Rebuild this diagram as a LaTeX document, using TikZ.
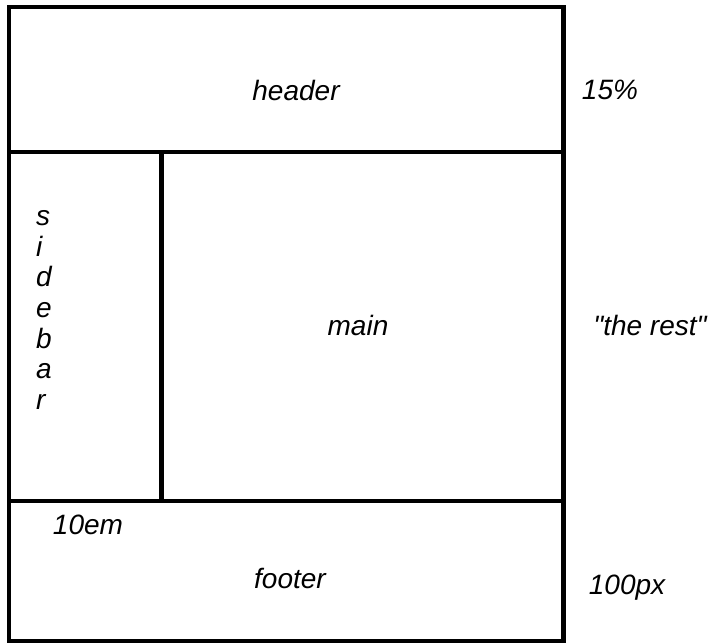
\documentclass[tikz,border=0pt]{standalone}
\usepackage{fontspec}
\newfontfamily\labfont{Liberation Sans}
\tikzset{
  wall/.style={line width=3.4pt},
  lbl/.style={font=\labfont\fontsize{21}{23}\selectfont\itshape, inner sep=0pt},
}
\begin{document}
\begin{tikzpicture}[x=0.75pt,y=-0.75pt]
\useasboundingbox (0,0) rectangle (716,643);
\coordinate (tl) at (9,7);
\coordinate (br) at (563.5,641);
\draw[wall] (tl) rectangle (br);
\coordinate (hl) at (9,152);
\coordinate (hr) at (563.5,152);
\coordinate (fl) at (9,501);
\coordinate (fr) at (563.5,501);
\coordinate (st) at (161.5,152);
\coordinate (sb) at (161.5,501);
\draw[wall] (hl) -- (hr);
\draw[wall] (fl) -- (fr);
\draw[wall] (st) -- (sb);
\node[lbl] (header) at (296,90) {header};
\node[lbl] (p15) at (610,90) {15\%};
\node[lbl] (main) at (358,325) {main};
\node[lbl] (rest) at (650,325) {"the rest"};
\node[lbl] (footer) at (290,578) {footer};
\node[lbl] (px) at (627,588) {100px};
\node[lbl] (em) at (88,525) {10em};
\node[lbl, align=left, font=\labfont\fontsize{21}{23}\selectfont\itshape] (side) at (44,310) {s\\i\\d\\e\\b\\a\\r};
\end{tikzpicture}
\end{document}
